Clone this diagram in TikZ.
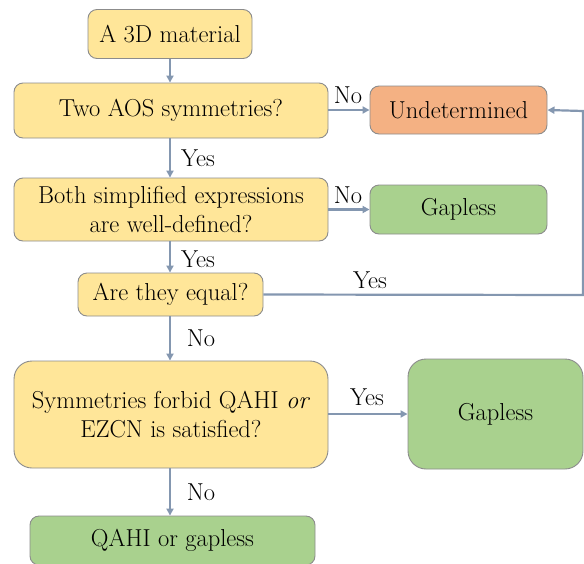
\documentclass[tikz,border=0pt]{standalone}
\usepackage{fontspec}
\setmainfont{Latin Modern Roman}
\usetikzlibrary{arrows.meta}
\definecolor{fyel}{HTML}{FFE699}
\definecolor{forg}{HTML}{F4B183}
\definecolor{fgrn}{HTML}{A9D18E}
\definecolor{bord}{HTML}{8C8C8C}
\definecolor{arr}{HTML}{8497B0}
\tikzset{
  box/.style={draw=bord, line width=0.9pt, rounded corners=9pt, inner sep=0pt, align=center,
    font=\fontsize{24.5}{29}\selectfont},
  bigbox/.style={box, rounded corners=18pt},
  conn/.style={draw=arr, line width=2.2pt, -{Triangle[length=7pt,width=7pt]}},
  lbl/.style={font=\fontsize{24.5}{29}\selectfont, inner sep=0pt}
}
\begin{document}
\begin{tikzpicture}[x=1pt,y=-1pt]
\useasboundingbox (0,0) rectangle (584,563);
\node[box, fill=fyel, minimum width=164pt, minimum height=49pt] (mat) at (170,34) {A 3D material};
\node[box, fill=fyel, minimum width=314pt, minimum height=55pt] (aos) at (171,110.5) {Two AOS symmetries?};
\node[box, fill=forg, minimum width=177pt, minimum height=48pt] (und) at (458.5,110) {Undetermined};
\node[box, fill=fyel, minimum width=314pt, minimum height=63pt] (both) at (171,209.5) {Both simplified expressions\\are well-defined?};
\node[box, fill=fgrn, minimum width=177pt, minimum height=49pt] (gap1) at (458.5,209.5) {Gapless};
\node[box, fill=fyel, minimum width=185pt, minimum height=43pt] (eq) at (170.5,294.5) {Are they equal?};
\node[bigbox, fill=fyel, minimum width=314pt, minimum height=107pt] (sym) at (171,414.5) {Symmetries forbid QAHI \textit{or}\\EZCN is satisfied?};
\node[bigbox, fill=fgrn, minimum width=175pt, minimum height=110pt] (gap2) at (495.5,414) {Gapless};
\node[box, fill=fgrn, minimum width=285pt, minimum height=49pt] (qahi) at (172.5,540.5) {QAHI or gapless};
\coordinate (c1) at (583,295);
\coordinate (c2) at (583,111);

\path[conn] (mat.south -| 170,0) -- (aos.north -| 170,0);
\path[conn] (aos.south -| 170,0) -- (both.north -| 170,0);
\path[conn] (both.south -| 170,0) -- (eq.north -| 170,0);
\path[conn] (eq.south -| 170,0) -- (sym.north -| 170,0);
\path[conn] (sym.south -| 170,0) -- (qahi.north -| 170,0);
\path[conn] (aos.east |- und.west) -- (und.west);
\path[conn] (both.east |- gap1.west) -- (gap1.west);
\path[conn] (sym.east |- gap2.west) -- (gap2.west);
\path[conn] (eq.east) -- (c1) -- (c2) -- (und.east);

\node[lbl] (l1) at (348,95) {No};
\node[lbl] (l2) at (348,195) {No};
\node[lbl] (l3) at (198,158) {Yes};
\node[lbl] (l4) at (198,259) {Yes};
\node[lbl] (l5) at (370,280) {Yes};
\node[lbl] (l6) at (201,338) {No};
\node[lbl] (l7) at (367,397) {Yes};
\node[lbl] (l8) at (201,492) {No};
\end{tikzpicture}
\end{document}
